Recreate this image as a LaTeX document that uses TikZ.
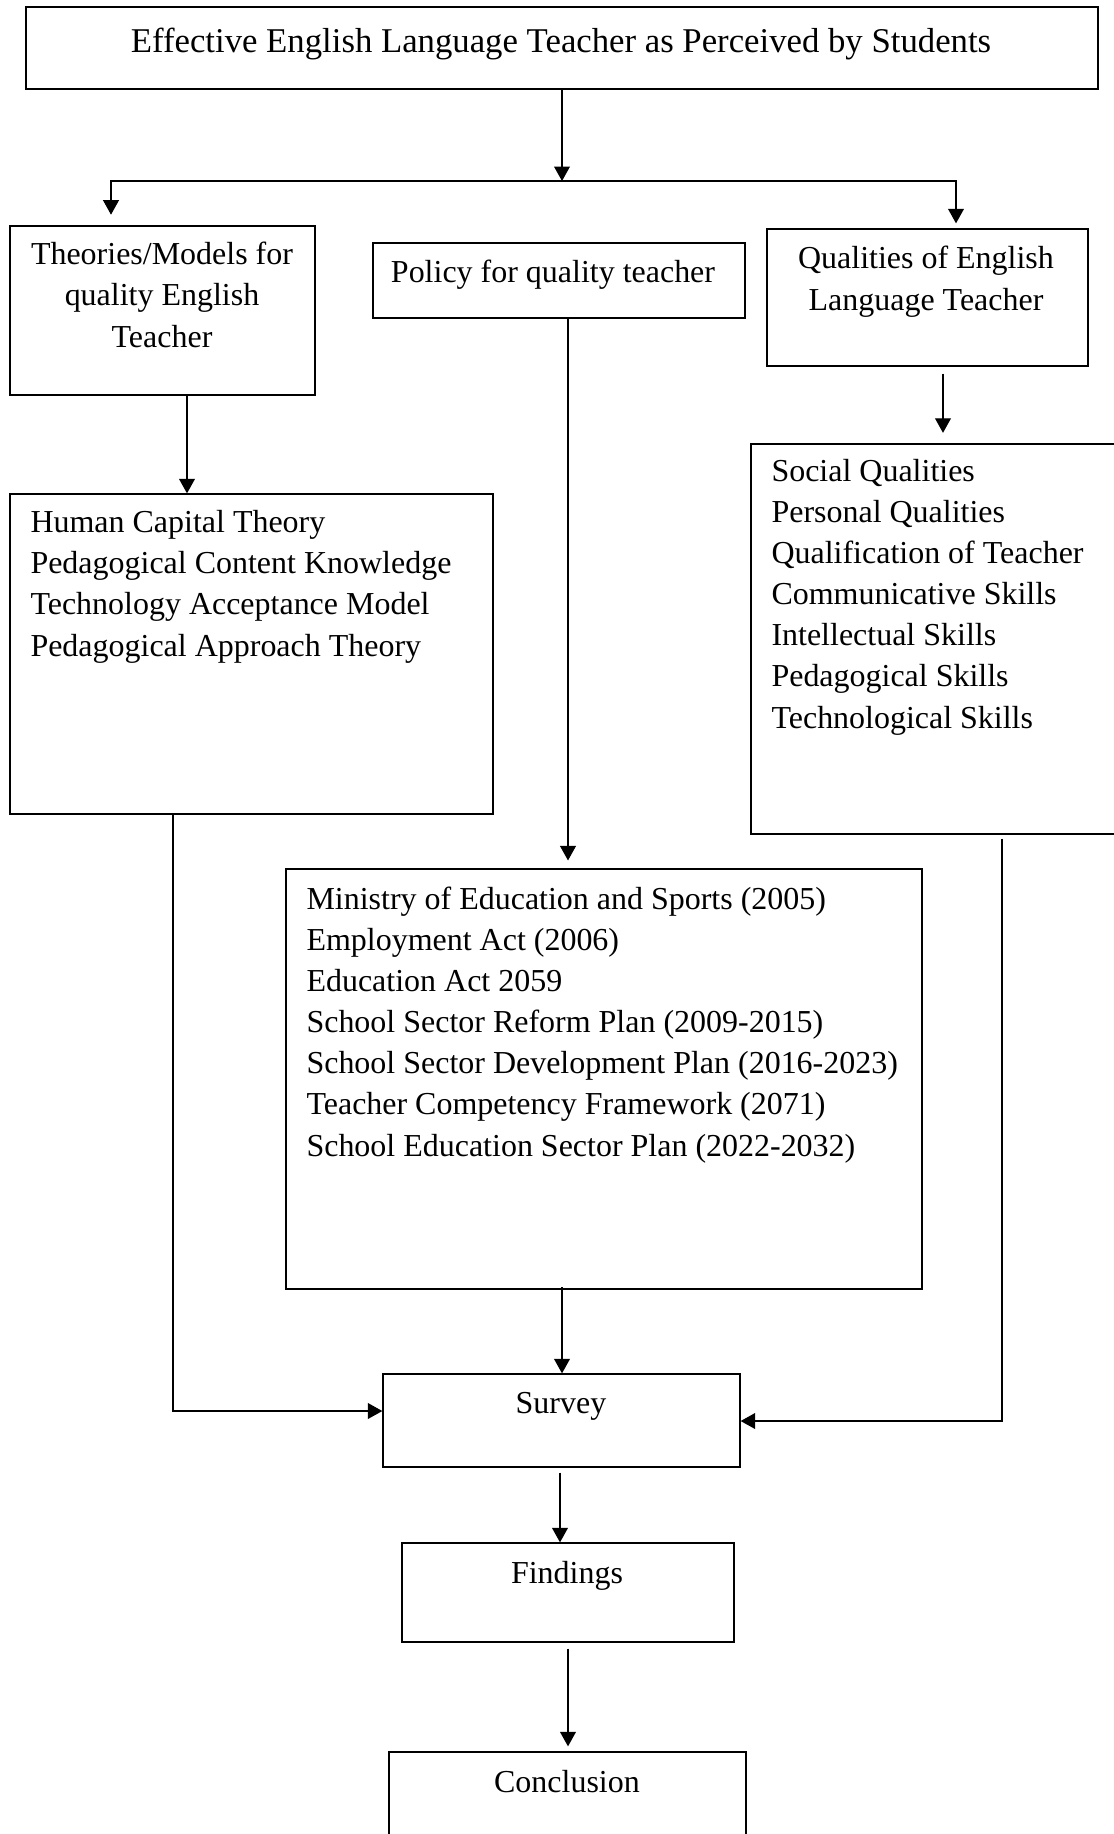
\documentclass[tikz,border=0pt]{standalone}
\usepackage{fontspec}
\setmainfont{Liberation Serif}
\usetikzlibrary{arrows.meta,fit}

\tikzset{
  box/.style={draw, line width=0.5pt, inner sep=0pt},
  txt/.style={inner sep=0pt, font=\fontsize{12.15}{15.6}\selectfont},
  arr/.style={-{Triangle[length=5.5pt,width=6pt]}, line width=0.45pt}
}

\begin{document}
\begin{tikzpicture}[x=0.38pt, y=-0.38pt]

\path[use as bounding box, clip] (0,0) rectangle (1114,1834);

% titolo
\node[box, line width=0.65pt, fit={(26,7) (1098,89)}] (top) {};
\node[txt, anchor=base, font=\fontsize{13.2}{15.6}\selectfont] (toptext) at (561,52)
{Effective English Language Teacher as Perceived by Students};

% tre riquadri (testo ancorato all'ultima riga)
\node[box, line width=1pt, fit={(10,226) (315,395)}] (theo) {};
\node[txt, anchor=base, align=center] (theotext) at (162,347)
{Theories/Models for\\quality English\\Teacher};

\node[box, fit={(373,243) (745,318)}] (pol) {};
\node[txt, anchor=base] (poltext) at (553,282) {Policy for quality teacher};

\node[box, fit={(767,229) (1088,366)}] (qual) {};
\node[txt, anchor=base, align=center] (qualtext) at (926,310)
{Qualities of English\\Language Teacher};

% elenchi
\node[box, fit={(10,494) (493,814)}] (hum) {};
\node[txt, anchor=base west, align=left] (humtext) at (30,656)
{Human Capital Theory\\Pedagogical Content Knowledge\\Technology Acceptance Model\\Pedagogical Approach Theory};

\node[box, fit={(751,444) (1122,834)}] (soc) {};
\node[txt, anchor=base west, align=left] (soctext) at (771,728)
{Social Qualities\\Personal Qualities\\Qualification of Teacher\\Communicative Skills\\Intellectual Skills\\Pedagogical Skills\\Technological Skills};

\node[box, fit={(286,869) (922,1289)}] (min) {};
\node[txt, anchor=base west, align=left] (mintext) at (306,1156)
{Ministry of Education and Sports (2005)\\Employment Act (2006)\\Education Act 2059\\School Sector Reform Plan (2009-2015)\\School Sector Development Plan (2016-2023)\\Teacher Competency Framework (2071)\\School Education Sector Plan (2022-2032)};

% riquadri finali
\node[box, fit={(383,1374) (740,1467)}] (sur) {};
\node[txt, anchor=base] (surtext) at (561,1413) {Survey};

\node[box, fit={(402,1543) (734,1642)}] (fin) {};
\node[txt, anchor=base] (fintext) at (567,1583) {Findings};

\node[box, fit={(389,1752) (746,1860)}] (con) {};
\node[txt, anchor=base] (context) at (567,1792) {Conclusion};

% frecce
\coordinate (split) at (562,181);
\coordinate (lt) at (111,0);
\coordinate (rt) at (956,0);
\coordinate (c1) at (187,0);
\coordinate (c2) at (568,0);
\coordinate (c3) at (943,0);
\coordinate (c4) at (173,1411);
\coordinate (c5) at (562,0);
\coordinate (c6) at (1002,1421);
\coordinate (c7) at (560,0);
\coordinate (c8) at (568,0);

\draw[arr] (top.south) -- (split);
\draw[arr, shorten >=3.8pt] (split) -| (theo.north -| lt);
\draw[arr, shorten >=1.9pt] (split) -| (qual.north -| rt);

\draw[arr] (theo.south -| c1) -- (hum.north -| c1);
\draw[arr, shorten >=3pt] (pol.south -| c2) -- (min.north -| c2);
\draw[arr, shorten <=2.6pt, shorten >=4pt] (qual.south -| c3) -- (soc.north -| c3);

\draw[arr] (hum.south -| c4) |- (sur.west |- c4);
\draw[arr, shorten <=-1pt] (min.south -| c5) -- (sur.north -| c5);
\draw[arr, shorten <=1.5pt] (soc.south -| c6) |- (sur.east |- c6);

\draw[arr, shorten <=1.9pt] (sur.south -| c7) -- (fin.north -| c7);
\draw[arr, shorten <=2.3pt, shorten >=1.9pt] (fin.south -| c8) -- (con.north -| c8);

\end{tikzpicture}
\end{document}
